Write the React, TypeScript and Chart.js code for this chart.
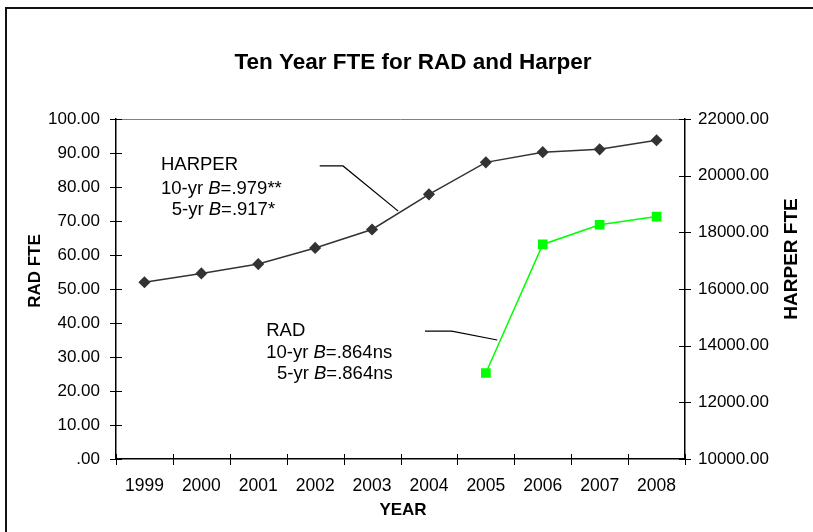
import React, { useEffect, useRef } from "react";
import { Chart, registerables } from "chart.js";

Chart.register(...registerables);

const years = ["1999", "2000", "2001", "2002", "2003", "2004", "2005", "2006", "2007", "2008"];
const harperFTE = [16240, 16550, 16880, 17450, 18100, 19340, 20470, 20830, 20930, 21250];
const radFTE = [null, null, null, null, null, null, 25.3, 63.1, 68.9, 71.3];

const chartTitle = "Ten Year FTE for RAD and Harper";
const leftTitle = "RAD FTE";
const rightTitle = "HARPER FTE";
const xTitle = "YEAR";

// annotation text blocks, in data coordinates (category index, RAD FTE value)
const harperNote = [
  { x: 0.29, y: 86.5, parts: [["HARPER", false]] },
  { x: 0.29, y: 79.4, parts: [["10-yr ", false], ["B", true], ["=.979**", false]] },
  { x: 0.48, y: 73.2, parts: [["5-yr ", false], ["B", true], ["=.917*", false]] },
];
const radNote = [
  { x: 2.14, y: 37.6, parts: [["RAD", false]] },
  { x: 2.14, y: 31.2, parts: [["10-yr ", false], ["B", true], ["=.864ns", false]] },
  { x: 2.33, y: 25.0, parts: [["5-yr ", false], ["B", true], ["=.864ns", false]] },
];
const harperLeader = [[3.08, 86.2], [3.49, 86.2], [4.46, 72.9]];
const radLeader = [[4.93, 37.6], [5.4, 37.6], [6.2, 35.0]];

const FONT = "'Liberation Sans', Arial, sans-serif";

const decorPlugin = {
  id: "decor",
  afterDraw(chart: any) {
    const ctx = chart.ctx;
    const { left, right, top, bottom } = chart.chartArea;
    const xs = chart.scales.x;
    const ys = chart.scales.y;
    const y1 = chart.scales.y1;
    ctx.save();
    // outer frame
    ctx.strokeStyle = "#111";
    ctx.lineWidth = 2;
    ctx.strokeRect(6, 8, chart.width + 20, chart.height + 20);

    // plot top border
    ctx.strokeStyle = "#808080";
    ctx.lineWidth = 1;
    ctx.beginPath();
    ctx.moveTo(left, top + 0.5);
    ctx.lineTo(right, top + 0.5);
    ctx.stroke();

    // tick marks
    ctx.strokeStyle = "#000";
    ctx.lineWidth = 1;
    ctx.beginPath();
    ys.ticks.forEach((t: any) => {
      const py = Math.round(ys.getPixelForValue(t.value)) + 0.5;
      ctx.moveTo(left - 6, py);
      ctx.lineTo(left + 6, py);
    });
    y1.ticks.forEach((t: any) => {
      const py = Math.round(y1.getPixelForValue(t.value)) + 0.5;
      ctx.moveTo(right - 6, py);
      ctx.lineTo(right + 6, py);
    });
    for (let i = 0; i <= years.length; i++) {
      const px = Math.round(xs.getPixelForValue(i - 0.5)) + 0.5;
      ctx.moveTo(px, bottom - 5);
      ctx.lineTo(px, bottom + 6);
    }
    ctx.stroke();

    // title
    ctx.fillStyle = "#000";
    ctx.textAlign = "center";
    ctx.textBaseline = "middle";
    ctx.font = `bold 22.5px ${FONT}`;
    ctx.fillText(chartTitle, 413, 63);

    // axis titles
    ctx.font = `bold 17px ${FONT}`;
    ctx.fillText(xTitle, 403, 510);
    ctx.save();
    ctx.translate(35, 271);
    ctx.rotate(-Math.PI / 2);
    ctx.font = `bold 17px ${FONT}`;
    ctx.fillText(leftTitle, 0, 0);
    ctx.restore();
    ctx.save();
    ctx.translate(792, 259);
    ctx.rotate(-Math.PI / 2);
    ctx.font = `bold 19px ${FONT}`;
    ctx.fillText(rightTitle, 0, 0);
    ctx.restore();

    // leader lines
    ctx.strokeStyle = "#000";
    ctx.lineWidth = 1.2;
    [harperLeader, radLeader].forEach((pts) => {
      ctx.beginPath();
      pts.forEach(([vx, vy], i) => {
        const px = xs.getPixelForValue(vx);
        const py = ys.getPixelForValue(vy);
        if (i === 0) ctx.moveTo(px, py);
        else ctx.lineTo(px, py);
      });
      ctx.stroke();
    });

    // notes
    ctx.textAlign = "left";
    ctx.textBaseline = "middle";
    [...harperNote, ...radNote].forEach((row: any) => {
      let px = xs.getPixelForValue(row.x);
      const py = ys.getPixelForValue(row.y);
      row.parts.forEach(([txt, it]: [string, boolean]) => {
        ctx.font = `${it ? "italic " : ""}18.5px ${FONT}`;
        ctx.fillText(txt, px, py);
        px += ctx.measureText(txt).width;
      });
    });
    ctx.restore();
  },
};

export default function App() {
  const ref = useRef<HTMLCanvasElement>(null);
  useEffect(() => {
    if (!ref.current) return;
    const chart = new Chart(ref.current, {
      type: "line",
      data: {
        labels: years,
        datasets: [
          {
            label: "HARPER",
            data: harperFTE,
            yAxisID: "y1",
            borderColor: "#333333",
            backgroundColor: "#333333",
            borderWidth: 1.5,
            pointStyle: "rectRot",
            pointRadius: 5,
            pointHoverRadius: 5,
            tension: 0,
          },
          {
            label: "RAD",
            data: radFTE,
            yAxisID: "y",
            borderColor: "#00ff00",
            backgroundColor: "#00ff00",
            borderWidth: 1.5,
            pointStyle: "rect",
            pointRadius: 5.8,
            pointHoverRadius: 5.8,
            tension: 0,
          },
        ],
      },
      options: {
        responsive: false,
        animation: false,
        devicePixelRatio: 1,
        layout: { padding: { top: 119, left: 0, right: 0, bottom: 0 } },
        plugins: {
          legend: { display: false },
          title: { display: false },
          tooltip: { enabled: false },
        },
        scales: {
          x: {
            type: "category",
            offset: true,
            grid: { display: true, drawOnChartArea: false, drawTicks: false },
            border: { display: true, color: "#000", width: 1.5 },
            ticks: {
              color: "#000",
              font: { family: FONT, size: 17.5 },
              padding: 17,
              maxRotation: 0,
              autoSkip: false,
            },
            afterFit: (s: any) => {
              s.height = 73;
            },
          },
          y: {
            position: "left",
            min: 0,
            max: 100,
            ticks: {
              stepSize: 10,
              color: "#000",
              font: { family: FONT, size: 17 },
              padding: 16,
              callback: (v: any) => Number(v).toFixed(2).replace(/^0\./, "."),
            },
            grid: { display: true, drawOnChartArea: false, drawTicks: false },
            border: { display: true, color: "#000", width: 1.5 },
            afterFit: (s: any) => {
              s.width = 116;
            },
          },
          y1: {
            position: "right",
            min: 10000,
            max: 22000,
            ticks: {
              stepSize: 2000,
              color: "#000",
              font: { family: FONT, size: 17 },
              padding: 13,
              callback: (v: any) => Number(v).toFixed(2),
            },
            grid: { display: true, drawOnChartArea: false, drawTicks: false },
            border: { display: true, color: "#000", width: 1.5 },
            afterFit: (s: any) => {
              s.width = 128;
            },
          },
        },
      },
      plugins: [decorPlugin],
    } as any);
    return () => chart.destroy();
  }, []);
  return (
    <div style={{ position: "absolute", left: 0, top: 0, width: 813, height: 532, background: "#fff" }}>
      <canvas ref={ref} width={813} height={532} style={{ display: "block" }} />
    </div>
  );
}
